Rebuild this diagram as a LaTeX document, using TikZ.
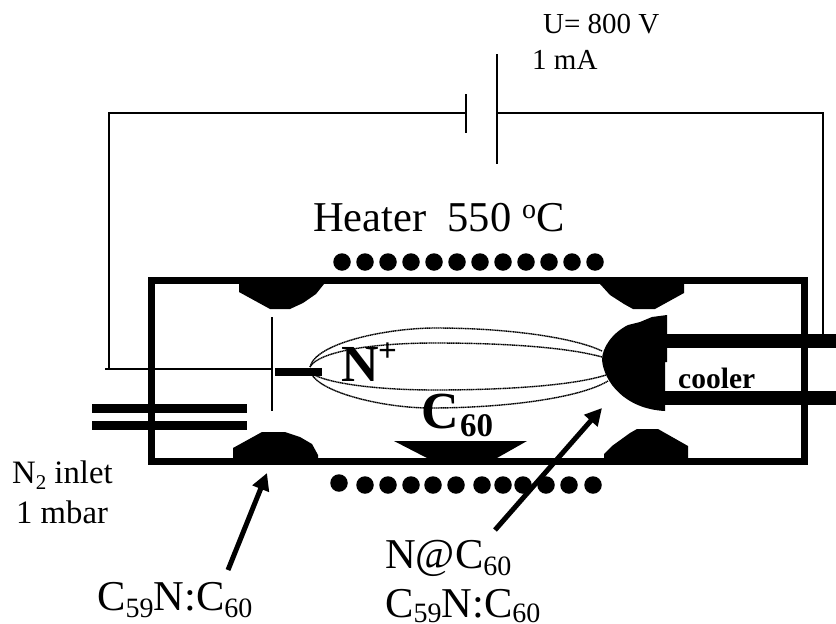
\documentclass[tikz,border=0pt]{standalone}
\usepackage{fontspec}
\setmainfont{Liberation Serif}
\usetikzlibrary{arrows.meta}
\newcommand{\fsz}[1]{\fontsize{#1}{#1}\selectfont}
\tikzset{
  wire/.style={draw=black,line width=1.5pt},
  plate/.style={draw=black,line width=2pt},
  solid block/.style={fill=black,draw=none},
  orbit/.style={draw=black,line width=1.4pt,dash pattern=on 1.3pt off 0.5pt},
  heatdot/.style={circle,fill=black,inner sep=0pt,minimum size=17.5pt},
  pointer/.style={draw=black,line width=5pt,-{Triangle[length=17pt,width=17pt]}},
  lbl/.style={inner sep=0pt,anchor=base west,text=black}
}
\begin{document}
\begin{tikzpicture}[x=1pt,y=-1pt]
\useasboundingbox (0,0) rectangle (836,624);
% chamber
\node[draw=black,line width=7pt,outer sep=0pt,minimum width=653pt,minimum height=181pt,inner sep=0pt,anchor=center] (chamber) at (478,371) {};
% wiring
\coordinate (bl) at (109,113); \coordinate (pl) at (466,113);
\coordinate (pr) at (497,113); \coordinate (br) at (823,113);
\coordinate (cw) at (823,335); \coordinate (el) at (109,369);
\coordinate (ew) at (272,369); \coordinate (es) at (105,369);
\draw[wire] (el) -- (bl) -- (pl);
\draw[wire] (pr) -- (br) -- (cw);
\draw[wire] (es) -- (ew);
\coordinate (pl1) at (466,94); \coordinate (pl2) at (466,133);
\coordinate (pr1) at (497,54); \coordinate (pr2) at (497,164);
\draw[plate] (pl1) -- (pl2);
\draw[plate] (pr1) -- (pr2);
% inlet
\fill (92,404) rectangle (247,413);
\fill (92,421) rectangle (247,430);
% electrode
\coordinate (g1) at (272,317); \coordinate (g2) at (272,411);
\draw[plate] (g1) -- (g2);
\fill (275,368) rectangle (322,376);
% blocks
\path[solid block] (239,284) -- (239,292) -- (270,309) -- (290,309) -- (303,303) -- (316,294) -- (324,284) -- cycle;
\path[solid block] (233,458) -- (233,448) -- (262,432) -- (285,432) -- (300,437) -- (312,444) -- (318,455) -- (318,458) -- cycle;
\path[solid block] (600,284) -- (610,295) -- (624,304) -- (633,309) -- (655,309) -- (684,293) -- (684,284) -- cycle;
\path[solid block] (604,458) -- (604,454) -- (612,446) -- (630,433) -- (637,429) -- (658,429) -- (688,446) -- (688,458) -- cycle;
% cooler
\path[solid block] (667,315) -- (652,317) -- (640,322) -- (628,325)
  .. controls (612,333) and (602,348) .. (602,360)
  .. controls (604,382) and (625,409) .. (665,411) -- (665,362) -- (667,362) -- cycle;
\fill (667,334) rectangle (836,348);
\fill (665,391) rectangle (836,405);
% orbits
\draw[orbit] (310,367) .. controls (316,342) and (390,328) .. (435,328) .. controls (510,328) and (575,338) .. (602,351);
\draw[orbit] (310,367) .. controls (318,352) and (370,343) .. (435,343) .. controls (510,343) and (570,348) .. (602,357);
\draw[orbit] (311,373) .. controls (325,383) and (375,390) .. (435,390) .. controls (510,390) and (575,385) .. (606,375);
\draw[orbit] (311,373) .. controls (320,393) and (385,408) .. (430,408) .. controls (505,408) and (580,398) .. (608,381);
% tray
\path[solid block] (394,441) -- (527,441) -- (497,458) -- (427,458) -- cycle;
% dots
\foreach \x [count=\i] in {342,365,388,411,434,457,480,503,526,549,572,595}
  \node[heatdot] (t\i) at (\x,262) {};
\foreach \x/\y [count=\i] in {339/483,365/485,388/485,411/485,433/485,456/485,482/485,503/485,523/485,546/485,569/485,593/485}
  \node[heatdot] (b\i) at (\x,\y) {};
% arrows
\coordinate (a1s) at (228,570); \coordinate (a1e) at (267,473);
\coordinate (a2s) at (495,530); \coordinate (a2e) at (602,408);
\draw[pointer] (a1s) -- (a1e);
\draw[pointer] (a2s) -- (a2e);
% text
\node[lbl] (u) at (543,33) {\fsz{29}U= 800 V};
\node[lbl] (ma) at (532,69) {\fsz{29}1 mA};
\node[lbl] (heater) at (313,231) {\fsz{42.5}Heater\ \ 550 \raisebox{13pt}{\fsz{28}o}C};
\node[lbl] (np) at (341,381) {\fsz{52}\textbf{N}};
\node[lbl] (nps) at (378,361) {\fsz{33}\textbf{+}};
\node[lbl] (c60) at (421,428) {\fsz{52}\textbf{C}};
\node[lbl] (c60s) at (460,436) {\fsz{33}\textbf{60}};
\node[lbl] (cool) at (678,388) {\fsz{29.5}\textbf{cooler}};
\node[lbl] (n2) at (12,483) {\fsz{32.7}N\raisebox{-6pt}{\fsz{21}2} inlet};
\node[lbl] (mb) at (16,523) {\fsz{32.7}1 mbar};
\node[lbl] (c1) at (97,610) {\fsz{42.5}C\raisebox{-7pt}{\fsz{28}59}N:C\raisebox{-7pt}{\fsz{28}60}};
\node[lbl] (nat) at (385,568) {\fsz{42.5}N@C\raisebox{-7pt}{\fsz{28}60}};
\node[lbl] (c2) at (385,617) {\fsz{42.5}C\raisebox{-5pt}{\fsz{28}59}N:C\raisebox{-5pt}{\fsz{28}60}};
\end{tikzpicture}
\end{document}
